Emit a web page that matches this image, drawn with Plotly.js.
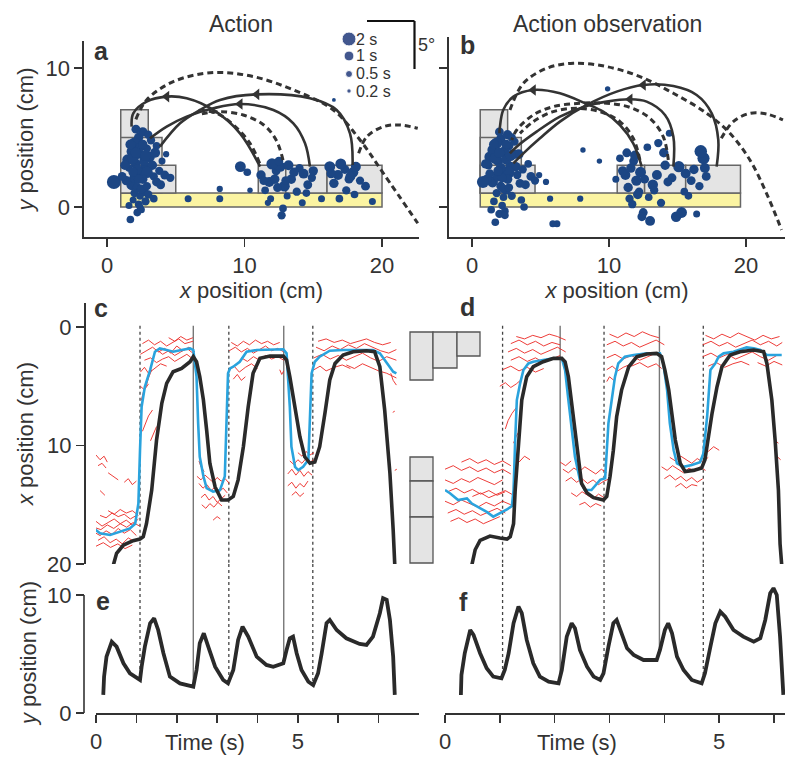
<!DOCTYPE html>
<html><head><meta charset="utf-8">
<script src="https://cdn.plot.ly/plotly-3.0.1.min.js"></script>
<style>html,body{margin:0;padding:0;background:#fff}#chart{width:800px;height:768px}</style>
</head><body><div id="chart"></div>
<script>
// ---------- Panel a / b : blocks [x0,x1,y0,y1] ----------
const blocksA = [[1,3,1,7],[1,4,1,5],[1,5,1,3],[11,13,1,3],[13,16,1,3],[16,20,1,3]];
const baseA = [1,20,0,1];
const blocksB = [[0.6,2.6,1,7],[0.6,3.6,1,5],[0.6,4.6,1,3],[10.6,12.6,1,3],[12.6,15.6,1,3],[15.6,19.6,1,3]];
const baseB = [0.6,19.6,0,1];

// ---------- Panel a trajectories ----------
const aSolidX = [
  [11.13,9.67,7.73,5.79,4.34,2.88,1.91,1.79],
  [14.76,14.4,13.55,12.1,9.67,7.73,5.79,4.34,3.13],
  [17.86,17.67,16.7,14.76,10.89,8.22,6.76,5.31,3.85]];
const aSolidY = [
  [2.9,5.3,6.98,7.82,7.94,7.58,6.74,5.78],
  [2.9,4.58,6.02,6.98,7.41,7.1,6.5,5.78,4.94],
  [3.02,5.3,6.98,7.82,8.1,7.7,6.98,6.02,4.34]];
const aDashX = [
  [2.1,2.88,4.82,7.73,10.64,13.55,16.46,18.4,20.1,22.6],
  [18.3,18.9,20.1,21.3,22.6],
  [12.8,12.3,11.4,9.9,8.2,6.9],
  [11.1,10.4,9.2,8.0,6.9]];
const aDashY = [
  [6.3,7.7,9.02,9.67,9.38,8.42,6.98,4.82,2.42,-1.17],
  [3.86,5.06,5.78,5.9,5.66],
  [3.38,4.82,5.9,6.62,6.86,6.7],
  [3.14,4.58,5.9,6.74,6.95]];

// ---------- Panel b trajectories ----------
const bSolidX = [
  [17.86,17.98,17.5,16.4,14.7,12.5,10.56,8.37,6.42,4.96,3.75,3.02],
  [14.7,14.7,14.09,12.75,11.53,9.83,8.37,6.42,4.72,3.26,2.77],
  [12.39,11.77,10.8,9.58,8.37,6.42,4.47,3.02,2.28,2.04,2.0]];
const bSolidY = [
  [2.9,4.82,6.74,8.06,8.7,8.78,8.3,7.34,6.14,4.94,3.86,3.14],
  [2.9,5.06,6.62,7.58,7.75,7.58,7.27,6.5,5.42,4.34,3.86],
  [2.9,4.58,5.9,6.86,7.41,8.18,8.42,7.94,6.98,5.78,5.3]];
const bDashX = [
  [2.77,3.75,5.45,7.4,9.83,12.26,14.7,17.13,18.83,20.29,21.5,22.6],
  [18.2,19.07,20.29,21.5,22.7],
  [14.33,13.96,12.99,11.53,9.83,7.88,5.93,4.47,3.26,2.9],
  [12.26,11.77,10.8,9.34,7.64,5.93,4.47,3.5]];
const bDashY = [
  [6.98,8.9,9.98,10.34,10.1,9.38,8.18,6.74,5.3,3.38,0.98,-1.65],
  [4.94,6.14,6.74,6.69,6.26],
  [3.38,5.06,6.38,7.17,7.46,7.46,7.22,6.62,5.54,4.82],
  [3.38,4.94,6.14,6.86,7.1,6.86,6.14,5.3]];

// ---------- Fixations (x cm, y cm, duration s) ----------
const fixAx = [2.1,2.5,1.8,2.9,2.3,3.1,1.6,2.7,2.0,3.4,2.4,1.9,2.8,3.6,2.2,1.5,2.6,3.0,2.0,2.4,3.3,1.7,2.9,2.2,3.8,2.5,1.4,2.1,2.7,3.2,2.3,1.8,2.6,4.2,3.5,2.0,1.6,2.8,2.4,3.9,4.6,1.3,2.2,0.5,1.1,3.0,2.6,1.9,2.5,3.4,4.0,1.7,2.3,2.9,2.1,3.6,1.9,2.4,2.8,4.3,
  5.9,8.2,8.2,9.7,10.2,10.4,16.5,
  11.2,11.8,12.3,12.9,13.4,14.0,14.6,11.5,12.6,13.1,13.8,14.3,12.0,11.4,13.6,14.9,12.8,11.9,13.2,12.4,14.5,15.0,16.2,16.8,17.3,17.9,18.4,16.5,17.0,17.6,18.1,16.9,17.4,18.8,15.6,12.2,12.7,19.3,18.0,13.0,11.7,14.2,16.3,17.7,12.5];
const fixAy = [3.1,2.4,1.6,4.2,5.0,3.6,2.8,1.1,4.6,2.2,3.8,0.5,2.9,1.8,-0.4,3.4,5.4,0.9,2.1,4.3,3.0,-0.9,2.5,1.4,2.6,-0.2,1.9,5.6,3.3,4.8,0.2,4.0,2.0,2.3,3.9,1.0,0.1,3.7,0.8,1.6,2.1,3.0,2.7,1.8,2.2,5.2,4.5,3.5,1.3,0.6,3.3,4.5,2.0,1.5,3.9,4.4,2.5,0.0,0.4,3.8,
  0.6,1.3,0.6,2.9,2.5,1.2,7.7,
  2.3,1.8,2.6,1.5,2.0,2.8,1.6,1.2,2.9,0.8,1.1,2.4,3.1,1.9,2.5,2.1,-0.1,0.6,3.0,1.4,1.0,2.6,2.9,2.3,2.7,2.5,1.9,1.7,3.1,2.0,2.9,0.6,1.2,1.5,0.6,2.0,-0.6,0.4,0.9,1.9,0.3,0.3,2.4,2.2,3.3];
const fixAdur = [1.0,0.8,1.2,0.7,0.9,1.1,0.6,0.8,1.3,0.7,0.9,0.5,1.0,0.8,0.6,1.2,0.9,0.7,1.1,0.8,0.9,0.6,1.4,0.8,0.7,0.5,0.9,0.8,1.0,0.7,0.6,1.1,0.9,0.8,1.0,0.7,0.5,1.2,0.6,0.8,0.7,0.9,1.0,2.0,0.8,0.7,0.9,1.3,0.8,0.6,0.5,1.0,0.9,0.7,1.1,0.6,0.9,0.5,0.7,0.4,
  0.5,0.4,0.5,1.2,0.6,0.3,0.15,
  0.9,1.0,0.8,1.2,0.9,0.7,0.8,0.6,1.1,0.5,0.7,1.0,1.3,0.8,0.9,0.7,0.6,0.5,1.0,0.8,0.6,0.9,1.2,1.0,0.8,1.1,0.7,0.9,1.2,0.8,1.0,0.6,0.7,0.8,0.5,0.9,0.7,0.5,0.6,0.8,0.4,0.5,0.9,1.0,0.8];

const fixBx = [1.9,2.3,1.5,2.7,2.1,3.0,1.2,2.5,1.8,3.3,2.2,1.6,2.8,3.5,2.0,1.3,2.6,2.9,1.9,2.4,3.2,1.7,2.7,2.1,3.7,2.4,1.1,2.0,2.5,3.1,2.2,1.5,2.6,4.3,3.4,1.8,1.4,2.8,2.3,3.9,4.6,1.0,2.1,0.8,1.3,2.9,2.5,1.7,2.3,3.6,4.1,1.6,2.2,2.7,2.0,3.8,1.9,2.4,6.2,5.4,
  8.1,9.3,7.9,5.9,9.9,5.7,4.9,
  11.2,11.6,12.0,11.8,12.3,11.4,12.6,11.9,12.2,11.0,12.9,13.5,14.1,14.6,13.2,13.8,14.3,15.1,15.6,16.2,16.6,17.1,16.9,15.8,12.5,11.7,13.0,14.9,15.3,16.4,11.3,12.8,13.6,14.4,10.8,12.1,13.3,16.0,17.0,16.7,14.0,12.4,11.5,15.5,10.5];
const fixBy = [3.3,2.6,1.8,4.4,4.9,3.8,3.0,1.2,4.6,2.3,3.9,0.4,2.9,1.7,-0.5,3.6,5.2,0.8,2.2,4.1,2.9,-1.1,2.5,1.5,2.7,-0.3,2.0,5.4,3.4,4.7,0.1,4.1,2.0,2.2,3.8,1.0,-0.2,3.7,0.7,1.6,1.9,3.1,2.8,1.8,2.4,5.0,4.5,3.5,1.3,0.5,3.1,4.5,2.1,1.4,3.9,0.0,2.6,-0.6,-1.2,1.8,
  4.1,3.3,0.6,-1.2,8.5,0.6,2.3,
  2.3,2.8,1.9,3.3,2.5,1.4,2.0,3.7,1.1,2.6,0.7,2.3,3.0,2.1,1.6,0.3,1.8,2.9,2.4,2.7,1.5,2.2,3.5,0.8,-0.4,0.2,-1.0,-0.7,-0.4,-0.5,3.9,4.3,4.6,5.3,3.5,0.9,1.2,1.9,2.8,4.0,3.9,-0.7,0.6,1.1,2.0];
const fixBdur = [1.0,0.9,1.2,0.8,0.9,1.1,0.7,0.8,1.3,0.7,0.9,0.6,1.0,0.8,0.7,1.2,0.9,0.7,1.1,0.8,0.9,0.6,1.3,0.8,0.7,0.6,0.9,0.8,1.0,0.7,0.6,1.1,0.9,0.8,1.0,0.7,0.6,1.2,0.6,0.8,0.7,0.9,1.0,1.5,0.8,0.7,0.9,1.3,0.8,0.6,0.6,1.0,0.9,0.7,1.1,0.6,0.9,0.6,0.5,0.4,
  0.3,0.3,0.4,0.5,0.3,0.4,0.4,
  1.0,0.9,1.1,0.8,1.2,0.9,0.8,1.0,0.7,0.9,0.6,1.0,0.9,0.8,1.1,0.7,0.8,1.3,1.0,0.9,0.7,0.8,1.5,0.6,0.8,0.7,1.0,1.1,1.2,0.5,0.8,0.6,0.7,0.5,0.6,0.9,0.7,0.8,1.0,1.6,0.9,0.8,0.7,0.6,0.5];

const legendDur = [2, 1, 0.5, 0.2];
const legendLabels = ['2 s', '1 s', '0.5 s', '0.2 s'];

// ---------- Panel c (action) : x position over time ----------
const cBlackT = [0.43,0.51,0.68,0.92,1.09,1.17,1.25,1.38,1.5,1.63,1.75,1.91,2.12,2.33,2.41,2.49,2.57,2.66,2.74,2.82,2.95,3.11,3.27,3.4,3.52,3.65,3.77,3.89,4.06,4.31,4.64,4.72,4.8,4.93,5.05,5.17,5.3,5.42,5.54,5.67,5.79,5.92,6.12,6.37,6.7,6.9,7.03,7.15,7.28,7.36,7.4];
const cBlackX = [20.08,19.1,18.4,18.03,17.9,17.7,16.6,13.76,9.54,6.44,4.75,3.77,3.49,2.93,2.5,2.93,4.19,6.16,8.69,11.5,13.5,14.6,14.6,14.3,12.9,10.1,6.72,3.91,2.64,2.45,2.45,2.78,4.19,6.72,9.26,10.95,11.5,11.4,10.1,7.28,4.47,3.07,2.36,2.08,2.0,2.08,3.35,7.0,12.35,17.1,20.08];
const cBlueT = [-0.02,0.1,0.35,0.59,0.84,0.97,1.05,1.09,1.13,1.21,1.34,1.46,1.58,1.75,1.91,2.12,2.33,2.41,2.49,2.53,2.57,2.66,2.74,2.9,3.07,3.19,3.24,3.27,3.32,3.4,3.56,3.73,3.98,4.31,4.64,4.72,4.8,4.84,4.93,5.01,5.13,5.26,5.3,5.34,5.42,5.54,5.79,6.12,6.53,6.86,7.03,7.2,7.36,7.44];
const cBlueX = [17.1,17.4,17.55,17.3,17.0,16.6,14.9,10.4,6.72,5.04,3.63,2.08,1.8,1.94,2.08,1.94,1.8,1.94,4.19,8.13,10.95,12.6,13.6,13.9,13.76,12.6,8.13,3.91,3.49,3.35,2.93,2.08,1.94,1.88,1.88,2.22,6.72,10.1,11.8,12.07,11.8,11.2,8.13,3.91,2.93,2.5,2.0,1.94,1.94,1.94,2.22,3.07,3.77,3.91];
const cRedT = [
 [-0.05,0.1,0.25,0.4,0.55,0.7,0.85,1.0],[0.0,0.15,0.3,0.45,0.6,0.75,0.9,1.05],[0.05,0.2,0.35,0.5,0.65,0.8,0.95],
 [-0.05,0.12,0.28,0.44,0.6,0.76,0.92,1.08],[0.1,0.25,0.4,0.55,0.7,0.85,1.0],[0.0,0.18,0.36,0.54,0.72,0.9],
 [0.3,0.45,0.6,0.75,0.9,1.05],[0.0,0.1,0.2,0.28],[0.05,0.15,0.25],[0.3,0.42,0.55],[0.1,0.22],[0.7,0.8,0.9,1.0],
 [1.1,1.25,1.4,1.55,1.7,1.85,2.0,2.15,2.3,2.45],[1.15,1.3,1.45,1.6,1.75,1.9,2.05,2.2,2.4],[1.2,1.35,1.5,1.65,1.8,1.95,2.1,2.25,2.4],
 [1.1,1.2,1.3,1.45,1.6,1.75],[1.5,1.65,1.8,1.95,2.1,2.25,2.4],[1.12,1.18,1.25,1.3,1.38],[1.15,1.22,1.3,1.4],[1.35,1.42,1.5],
 [1.1,1.2,1.3],[1.8,1.95,2.1,2.25,2.4],
 [2.55,2.65,2.75,2.85,2.95,3.05,3.15,3.25],[2.6,2.7,2.8,2.9,3.0,3.1,3.2],[2.5,2.6,2.7,2.8,2.9,3.0,3.1,3.2,3.3],
 [2.62,2.72,2.82,2.92,3.02,3.12],[2.55,2.6,2.68],[2.9,3.0,3.08],
 [3.3,3.45,3.6,3.75,3.9,4.05,4.2,4.35,4.5,4.65],[3.35,3.5,3.65,3.8,3.95,4.1,4.25,4.4,4.55],[3.3,3.42,3.55,3.7,3.85,4.0],
 [3.6,3.75,3.9,4.05,4.2,4.35,4.5,4.65],[3.4,3.5,3.6,3.7],[4.55,4.6,4.65],
 [4.75,4.85,4.95,5.05,5.15,5.25,5.35],[4.8,4.9,5.0,5.1,5.2,5.3,5.4],[4.75,4.85,4.95,5.05,5.15,5.25],[4.85,4.95,5.05,5.15],[5.0,5.1,5.2,5.3,5.4],
 [5.4,5.6,5.8,6.0,6.2,6.4,6.6,6.8,7.0,7.2,7.44],[5.45,5.65,5.85,6.05,6.25,6.45,6.65,6.85,7.05,7.25,7.44],[5.4,5.55,5.7,5.9,6.1,6.3],
 [6.2,6.4,6.6,6.8,7.0,7.2,7.44],[5.5,5.7,5.9,6.1,6.3,6.5,6.7,6.9,7.1,7.3],[7.3,7.36,7.44],[7.35,7.4],[7.4,7.45]];
const cRedX = [
 [17.3,17.6,17.2,17.5,17.0,17.4,17.1,17.6],[16.4,16.8,16.5,16.2,16.6,16.3,16.7,16.2],[18.0,17.7,18.2,17.9,18.3,17.8,18.1],
 [16.9,17.1,16.7,17.0,16.6,16.9,16.5,16.8],[15.9,16.1,15.7,16.0,15.8,16.2,15.9],[18.5,18.2,18.6,18.3,18.7,18.4],
 [15.5,15.8,15.4,15.7,15.5,15.9],[10.8,11.2,10.9,11.4],[11.7,11.5,11.9],[12.3,12.6,12.9],[13.8,14.2],[13.1,12.8,13.3,13.0],
 [2.3,2.0,1.7,2.1,1.8,2.2,1.6,2.0,1.7,2.1],[1.4,1.1,1.5,1.2,1.6,1.3,1.0,1.4,1.2],[2.8,2.6,3.0,2.7,2.5,2.9,2.6,2.3,2.7],
 [3.8,3.4,3.9,3.5,3.1,3.3],[1.9,2.3,2.0,2.4,2.1,1.8,2.2],[6.2,5.4,4.9,4.3,3.6],[8.8,8.2,7.5,7.0],[9.6,9.0,8.4],
 [5.0,5.3,4.8],[0.9,1.2,0.8,1.1,0.9],
 [13.2,13.6,13.3,13.8,13.5,13.9,13.6,14.0],[14.4,14.1,14.6,14.3,14.8,14.5,14.2],[12.6,12.9,12.5,12.8,13.1,12.7,13.0,12.8,13.2],
 [15.0,15.3,14.9,15.2,14.8,15.1],[11.3,11.8,12.2],[16.3,16.0,16.2],
 [2.0,1.7,2.1,1.8,2.2,1.9,1.6,2.0,1.8,2.1],[1.3,1.6,1.2,1.5,1.1,1.4,1.2,1.5,1.3],[3.6,3.3,3.8,3.4,3.1,3.5],
 [2.6,2.9,2.5,2.8,2.4,2.7,2.5,2.8],[4.4,4.0,4.5,4.2],[3.6,4.0,3.7],
 [12.4,12.0,12.5,12.1,12.6,12.2,12.5],[11.3,11.6,11.2,11.5,11.1,11.4,11.2],[13.4,13.1,13.6,13.2,13.5,13.0],[14.2,13.9,14.3,14.0],[10.6,10.9,10.5,10.8,10.6],
 [2.6,2.3,2.7,2.4,2.8,2.5,2.2,2.6,2.9,2.5,2.8],[1.7,2.0,1.6,1.9,1.5,1.8,1.4,1.7,2.0,2.2,1.9],[3.6,3.3,3.7,3.4,3.2,3.5],
 [3.2,3.5,3.1,3.4,3.7,3.9,4.3],[1.2,1.0,1.3,1.1,1.4,1.2,1.0,1.3,1.5,1.3],[3.9,4.5,4.9],[7.2,7.1],[12.1,12.0]];

// ---------- Panel d (observation) ----------
const dBlackT = [0.49,0.55,0.64,0.82,1.0,1.13,1.19,1.25,1.28,1.34,1.4,1.49,1.61,1.79,1.98,2.13,2.19,2.25,2.31,2.37,2.43,2.49,2.59,2.71,2.89,2.95,3.01,3.07,3.13,3.22,3.35,3.5,3.68,3.86,3.95,4.01,4.08,4.14,4.2,4.29,4.38,4.53,4.68,4.74,4.8,4.87,4.96,5.05,5.2,5.38,5.63,5.81,5.87,5.96,6.02,6.08,6.11,6.14];
const dBlackX = [20.08,18.8,18.0,17.64,17.8,17.9,17.7,16.6,13.76,9.54,6.16,4.19,3.35,2.93,2.64,2.64,2.93,4.19,6.44,8.97,11.5,13.2,14.0,14.4,14.6,14.3,12.6,10.4,7.57,5.32,3.35,2.5,2.28,2.22,2.5,3.63,5.32,7.57,9.54,11.5,12.2,12.1,11.9,11.2,9.26,7.28,5.04,3.35,2.36,2.08,1.94,2.08,3.07,6.16,9.54,13.76,18.3,20.08];
const dBlueT = [0.0,0.09,0.24,0.4,0.49,0.64,0.76,0.88,1.0,1.13,1.22,1.25,1.28,1.31,1.37,1.43,1.52,1.61,1.79,1.98,2.13,2.19,2.25,2.31,2.37,2.46,2.55,2.67,2.83,2.92,2.95,2.98,3.04,3.1,3.16,3.28,3.44,3.68,3.92,3.98,4.05,4.1,4.17,4.23,4.35,4.5,4.65,4.71,4.78,4.84,4.93,4.99,5.08,5.26,5.5,5.63,5.75,5.87,6.14];
const dBlueX = [13.76,14.03,14.6,14.46,14.9,15.3,15.6,16.0,15.7,15.4,15.1,13.76,9.54,6.16,4.75,3.63,3.07,2.93,2.78,2.64,2.64,3.63,6.16,8.69,10.95,12.9,13.76,13.76,12.9,12.77,10.1,8.13,6.16,4.19,3.07,2.5,2.36,2.22,2.22,3.07,5.32,8.13,10.4,11.5,11.8,11.65,11.4,10.7,7.57,3.63,3.07,2.5,2.22,2.08,1.72,1.8,1.94,2.36,2.36];
const dRedT = [
 [0.0,0.15,0.3,0.45,0.6,0.75,0.9,1.05,1.2],[0.0,0.15,0.3,0.45,0.6,0.75,0.9,1.05],[0.05,0.2,0.35,0.5,0.65,0.8,0.95,1.1],
 [0.0,0.15,0.3,0.45,0.6,0.75,0.9,1.05,1.2],[0.05,0.2,0.35,0.5,0.65,0.8,0.95,1.1],[0.1,0.25,0.4,0.55,0.7,0.85,1.0],
 [0.3,0.45,0.6,0.75,0.9,1.05,1.2],[0.5,0.65,0.8,0.95,1.1,1.25],
 [1.2,1.35,1.5,1.65,1.8,1.95,2.1],[1.15,1.3,1.45,1.6,1.75,1.9,2.05,2.2],[1.2,1.35,1.5,1.65,1.8,1.95,2.1],
 [1.05,1.2,1.35,1.5,1.65,1.8],[1.0,1.1,1.2,1.3,1.4],[1.3,1.45,1.6,1.75,1.9,2.05,2.2],[1.1,1.15,1.22,1.3],[1.25,1.3,1.38],[1.35,1.45,1.55],
 [2.15,2.25,2.35,2.45,2.55,2.65,2.75,2.85,2.95],[2.2,2.3,2.4,2.5,2.6,2.7,2.8,2.9,3.0],[2.3,2.4,2.5,2.6,2.7,2.8,2.9],
 [2.45,2.55,2.65,2.75,2.85],[2.1,2.2,2.3],
 [2.95,3.1,3.25,3.4,3.55,3.7,3.85,4.0],[3.0,3.15,3.3,3.45,3.6,3.75,3.9],[2.95,3.1,3.25,3.4,3.55,3.7,3.85],
 [2.95,3.05,3.15,3.25,3.35],[3.4,3.55,3.7,3.85,3.95],[2.95,3.0,3.08],
 [3.95,4.05,4.15,4.25,4.35,4.45,4.55,4.65,4.75],[4.0,4.1,4.2,4.3,4.4,4.5,4.6,4.7],[4.1,4.2,4.3,4.4,4.5,4.6,4.7,4.8],
 [4.2,4.3,4.4,4.5,4.6],[4.7,4.8,4.9,5.0],
 [4.7,4.85,5.0,5.15,5.3,5.45,5.6,5.75,5.9,6.05,6.15],[4.75,4.9,5.05,5.2,5.35,5.5,5.65,5.8,5.95,6.1],
 [4.7,4.85,5.0,5.15,5.3,5.45,5.6,5.75,5.9,6.05],[4.8,4.95,5.1,5.25,5.4,5.55],[5.7,5.85,6.0,6.15],[6.0,6.08],[6.05,6.12]];
const dRedX = [
 [12.0,11.7,12.1,11.8,12.2,11.9,12.3,12.0,12.4],[12.9,13.2,12.8,13.1,12.7,13.0,13.3,12.9],[13.9,13.6,14.0,13.7,14.1,13.8,14.2,13.9],
 [14.7,15.0,14.6,14.9,15.2,14.8,15.1,14.7,15.0],[15.7,15.4,15.8,15.5,15.9,15.6,15.3,15.7],[16.4,16.1,16.5,16.2,16.6,16.3,16.0],
 [11.4,11.1,11.5,11.2,11.6,11.3,11.7],[14.3,14.0,14.4,14.1,13.8,14.2],
 [1.4,1.1,1.5,1.2,1.6,1.3,1.5],[2.1,1.8,2.2,1.9,2.3,2.0,1.7,2.1],[2.8,2.5,2.9,2.6,3.0,2.7,2.4],
 [3.6,3.3,3.7,3.4,3.8,3.5],[5.0,4.7,5.1,4.8,4.4],[0.8,1.0,0.7,0.9,0.6,0.8,1.1],[8.6,7.9,7.3,6.8],[9.8,9.2,8.6],[11.4,10.9,11.2],
 [12.0,12.3,11.9,12.2,11.8,12.1,12.4,12.0,12.3],[13.0,12.7,13.1,12.8,13.2,12.9,13.3,13.0,12.8],[14.0,14.3,13.9,14.2,14.5,14.1,14.4],
 [15.0,14.8,15.2,14.9,15.1],[11.4,11.7,11.3],
 [1.5,1.2,1.6,1.3,1.7,1.4,1.1,1.5],[0.6,0.9,0.5,0.8,0.4,0.7,0.9],[2.6,2.3,2.7,2.4,2.8,2.5,2.2],
 [3.6,3.3,3.7,3.4,3.2],[3.3,3.0,3.4,3.1,3.5],[4.6,4.2,4.5],
 [11.8,12.1,11.7,12.0,12.3,11.9,12.2,11.8,12.1],[12.8,12.5,12.9,12.6,13.0,12.7,13.1,12.8],[11.0,11.3,10.9,11.2,11.5,11.1,11.4,11.0],
 [13.5,13.2,13.6,13.3,13.4],[10.2,10.5,10.1,10.4],
 [1.5,1.2,1.6,1.3,1.7,1.4,1.1,1.5,1.2,1.6,1.3],[0.7,1.0,0.6,0.9,0.5,0.8,1.1,0.7,1.0,0.8],
 [2.5,2.2,2.6,2.3,2.7,2.4,2.1,2.5,2.8,2.4],[3.3,3.0,3.4,3.1,2.9,3.2],[3.0,3.3,2.9,3.2],[9.5,9.8],[10.9,11.2]];

// ---------- Panels e / f : y position over time ----------
const eT = [0.18,0.2,0.26,0.39,0.51,0.68,0.84,1.09,1.13,1.21,1.34,1.44,1.54,1.67,1.83,2.08,2.41,2.49,2.57,2.67,2.78,2.95,3.15,3.27,3.4,3.52,3.63,3.77,3.98,4.22,4.39,4.64,4.72,4.8,4.88,4.97,5.09,5.26,5.38,5.5,5.59,5.71,5.79,5.96,6.2,6.53,6.7,6.86,7.03,7.11,7.2,7.28,7.36,7.4];
const eY = [1.53,3.08,4.77,6.04,5.62,4.21,3.36,2.8,3.92,5.62,7.6,8.02,7.03,5.06,3.08,2.51,2.23,3.64,5.9,6.75,5.62,3.92,2.8,2.51,3.64,6.19,7.31,6.47,4.77,4.07,3.92,4.21,5.34,6.33,6.47,5.06,3.64,2.65,2.37,3.36,5.06,7.6,7.88,7.03,6.33,5.85,5.76,6.47,8.45,9.72,9.58,7.88,4.77,1.53];
const fT = [0.29,0.3,0.36,0.46,0.52,0.64,0.76,0.88,1.03,1.09,1.16,1.25,1.34,1.4,1.49,1.61,1.73,1.89,2.07,2.13,2.22,2.31,2.37,2.46,2.59,2.71,2.83,2.89,2.98,3.07,3.13,3.22,3.32,3.44,3.62,3.86,3.92,4.01,4.07,4.14,4.23,4.35,4.5,4.68,4.74,4.84,4.93,5.02,5.11,5.26,5.44,5.63,5.75,5.84,5.93,5.99,6.05,6.11,6.17];
const fY = [1.53,3.22,5.06,7.03,6.61,5.06,3.79,3.08,2.94,3.64,5.06,7.6,9.01,8.45,6.19,4.21,3.08,2.65,2.51,3.64,6.47,7.6,7.18,5.34,3.92,3.08,2.8,3.36,5.62,7.6,7.88,6.75,5.48,4.92,4.49,4.49,5.34,7.03,7.6,6.75,4.77,3.64,2.8,2.51,3.36,5.62,7.6,8.58,8.16,7.03,6.47,6.04,6.33,7.88,10.14,10.57,10.0,6.47,1.53];

// ---------- Events (s) ----------
const eventsAction = [1.09, 2.41, 3.29, 4.65, 5.37];
const eventsObs = [1.05, 2.1, 2.9, 3.91, 4.71];
const eventKinds = ['dash', 'solid', 'dash', 'solid', 'dash'];

// ================= drawing =================
const FONT = 'Liberation Sans, Arial, Helvetica, sans-serif';
const INK = '#333';
const W = 800, H = 768;
const px = p => p / W;
const py = p => 1 - p / H;
const E_TOP = 12.62;
const DOT = '#1c4684';
const SIZEREF = 1 / 49;

function flat(segs) { const o = []; segs.forEach((s, i) => { if (i) o.push(null); o.push(...s); }); return o; }
function interp(ts, vs, t) {
  for (let i = 1; i < ts.length; i++) if (t <= ts[i]) { const f = (t - ts[i-1]) / (ts[i] - ts[i-1]); return vs[i-1] + f * (vs[i] - vs[i-1]); }
  return vs[vs.length - 1];
}

const traces = [];

function trajTraces(sx, sy, dx, dy, xa, ya) {
  dx.forEach((xs, i) => traces.push({x: xs, y: dy[i], xaxis: xa, yaxis: ya, mode: 'lines', hoverinfo: 'skip',
    line: {color: INK, width: 3, dash: '6px,4px', shape: 'spline'}}));
  sx.forEach((xs, i) => traces.push({x: xs, y: sy[i], xaxis: xa, yaxis: ya, mode: 'lines', hoverinfo: 'skip',
    line: {color: INK, width: 2.6, shape: 'spline'}}));
  const axx = [], ayy = [];
  sx.forEach((xs, i) => { const ys = sy[i]; let k = 0; ys.forEach((v, j) => { if (v > ys[k]) k = j; }); axx.push(xs[k]); ayy.push(ys[k]); });
  traces.push({x: axx, y: ayy, xaxis: xa, yaxis: ya, mode: 'markers', hoverinfo: 'skip',
    marker: {symbol: 'triangle-left', size: 10, color: INK, opacity: 1}});
}
function fixTrace(x, y, d, xa, ya) {
  traces.push({x: x, y: y, xaxis: xa, yaxis: ya, mode: 'markers', hoverinfo: 'skip',
    marker: {color: DOT, opacity: 1, size: d, sizemode: 'area', sizeref: SIZEREF, line: {width: 0}}});
}

// panel a
fixTrace(fixAx, fixAy, fixAdur, 'x', 'y');
trajTraces(aSolidX, aSolidY, aDashX, aDashY, 'x', 'y');
// panel b
fixTrace(fixBx, fixBy, fixBdur, 'x2', 'y2');
trajTraces(bSolidX, bSolidY, bDashX, bDashY, 'x2', 'y2');

function eventLines(evts, xa, yTop, yBot, curveT, curveY) {
  evts.forEach((t, i) => {
    const ln = eventKinds[i] === 'dash' ? {color: '#444', width: 1.3, dash: '3px,3px'} : {color: '#777', width: 1.4};
    traces.push({x: [t, t], y: [-0.1, 20], xaxis: xa, yaxis: yTop, mode: 'lines', hoverinfo: 'skip', line: ln});
    traces.push({x: [t, t], y: [E_TOP, interp(curveT, curveY, t)], xaxis: xa, yaxis: yBot, mode: 'lines', hoverinfo: 'skip', line: ln});
  });
}
eventLines(eventsAction, 'x3', 'y3', 'y5', eT, eY);
eventLines(eventsObs, 'x4', 'y4', 'y6', fT, fY);

function posTraces(redT, redX, blueT, blueX, blackT, blackX, xa, ya) {
  traces.push({x: flat(redT), y: flat(redX), xaxis: xa, yaxis: ya, mode: 'lines', hoverinfo: 'skip', connectgaps: false,
    line: {color: 'rgba(235,40,35,0.9)', width: 1.0}});
  traces.push({x: blueT, y: blueX, xaxis: xa, yaxis: ya, mode: 'lines', hoverinfo: 'skip', line: {color: '#2aa3dd', width: 2.6}});
  traces.push({x: blackT, y: blackX, xaxis: xa, yaxis: ya, mode: 'lines', hoverinfo: 'skip', line: {color: '#2a2a2a', width: 3.6}});
}
posTraces(cRedT, cRedX, cBlueT, cBlueX, cBlackT, cBlackX, 'x3', 'y3');
posTraces(dRedT, dRedX, dBlueT, dBlueX, dBlackT, dBlackX, 'x4', 'y4');

traces.push({x: eT, y: eY, xaxis: 'x3', yaxis: 'y5', mode: 'lines', hoverinfo: 'skip', line: {color: '#2a2a2a', width: 3.8}});
traces.push({x: fT, y: fY, xaxis: 'x4', yaxis: 'y6', mode: 'lines', hoverinfo: 'skip', line: {color: '#2a2a2a', width: 3.8}});

// legend of fixation durations (overlay axis in pixel units)
const legY = [39, 56, 74, 91];
traces.push({x: legendDur.map(() => 349), y: legY, xaxis: 'x7', yaxis: 'y7', mode: 'markers', hoverinfo: 'skip',
  cliponaxis: false, marker: {color: '#42578e', opacity: 1, size: legendDur, sizemode: 'area', sizeref: SIZEREF}});

const tf = {family: FONT, size: 22, color: INK};
const axBase = {showgrid: false, zeroline: false, showline: true, linecolor: INK, linewidth: 1.6,
  ticks: 'outside', ticklen: 8, tickwidth: 1.6, tickcolor: INK, tickfont: tf};

const shapes = [];
function blockShapes(blocks, base, xr, yr) {
  shapes.push({type: 'rect', xref: xr, yref: yr, x0: base[0], x1: base[1], y0: base[2], y1: base[3],
    fillcolor: '#fbf4a2', line: {color: '#666', width: 1.5}, layer: 'below'});
  blocks.forEach(b => shapes.push({type: 'rect', xref: xr, yref: yr, x0: b[0], x1: b[1], y0: b[2], y1: b[3],
    fillcolor: '#e4e4e4', line: {color: '#666', width: 1.5}, layer: 'below'}));
}
blockShapes(blocksA, baseA, 'x', 'y');
blockShapes(blocksB, baseB, 'x2', 'y2');
// e y-axis line (0..10 only)
shapes.push({type: 'line', xref: 'paper', yref: 'y5', x0: px(84), x1: px(84), y0: 0, y1: 10, line: {color: INK, width: 1.6}});
// scale bar 5 deg
shapes.push({type: 'line', xref: 'paper', yref: 'paper', x0: px(367), x1: px(414.5), y0: py(21), y1: py(21), line: {color: '#111', width: 2.2}});
shapes.push({type: 'line', xref: 'paper', yref: 'paper', x0: px(414.5), x1: px(414.5), y0: py(21), y1: py(69), line: {color: '#111', width: 2.2}});
// inset block sketches
[[410,332,433,380],[433,332,457,368],[457,332,480,356],[410,457,433,481],[410,481,433,517],[410,517,433,563]].forEach(r =>
  shapes.push({type: 'rect', xref: 'paper', yref: 'paper', x0: px(r[0]), x1: px(r[2]), y0: py(r[1]), y1: py(r[3]),
    fillcolor: '#e4e4e4', line: {color: '#555', width: 1.3}}));

const ann = [];
function txt(t, x, y, size, extra) { ann.push(Object.assign({text: t, x: px(x), y: py(y), xref: 'paper', yref: 'paper', showarrow: false,
  xanchor: 'center', yanchor: 'middle', font: {family: FONT, size: size, color: INK}}, extra || {})); }
txt('Action', 241, 24, 23);
txt('Action observation', 607, 24, 23);
txt('<b>a</b>', 101, 51, 25); txt('<b>b</b>', 467, 45, 25);
txt('<b>c</b>', 101, 308, 25); txt('<b>d</b>', 467, 307, 25);
txt('<b>e</b>', 103, 601, 25); txt('<b>f</b>', 464, 602, 25);
txt('5°', 427, 45, 18);
legendLabels.forEach((l, i) => txt(l, 355, legY[i], 16, {xanchor: 'left', borderpad: 0}));
txt('Time (s)', 205, 742, 22); txt('Time (s)', 577, 742, 22);
txt('<i>y</i> position (cm)', 28, 654, 22, {textangle: -90});

const layout = {
  width: W, height: H, margin: {l: 0, r: 0, t: 0, b: 0}, showlegend: false,
  paper_bgcolor: '#fff', plot_bgcolor: 'rgba(0,0,0,0)', font: {family: FONT, color: INK},
  xaxis: Object.assign({}, axBase, {domain: [px(84), px(419)], range: [-1.673, 22.69], tickvals: [0, 10, 20], anchor: 'y',
    title: {text: '<i>x</i> position (cm)', font: {family: FONT, size: 22, color: INK}, standoff: 4}}),
  yaxis: Object.assign({}, axBase, {domain: [py(237), py(41)], range: [-2.158, 11.94], tickvals: [0, 10], anchor: 'x',
    title: {text: '<i>y</i> position (cm)', font: {family: FONT, size: 22, color: INK}, standoff: 6}}),
  xaxis2: Object.assign({}, axBase, {domain: [px(449), px(785)], range: [-1.68, 22.85], tickvals: [0, 10, 20], anchor: 'y2',
    title: {text: '<i>x</i> position (cm)', font: {family: FONT, size: 22, color: INK}, standoff: 4}}),
  yaxis2: Object.assign({}, axBase, {domain: [py(237), py(37)], range: [-2.16, 12.23], tickvals: [0, 10], showticklabels: false, anchor: 'x2'}),
  xaxis3: Object.assign({}, axBase, {domain: [px(96), px(419)], range: [0, 8.0], tickvals: [0,1,2,3,4,5,6,7],
    ticktext: ['0','','','','','5','',''], anchor: 'y5'}),
  yaxis3: Object.assign({}, axBase, {domain: [py(564), py(303)], range: [20, -2.03], tickvals: [0, 10, 20], anchor: 'free', position: px(84),
    title: {text: '<i>x</i> position (cm)', font: {family: FONT, size: 22, color: INK}, standoff: 6}}),
  yaxis5: Object.assign({}, axBase, {domain: [py(713), py(564)], range: [0, E_TOP], tickvals: [0, 10], showline: false, anchor: 'free', position: px(84)}),
  xaxis4: Object.assign({}, axBase, {domain: [px(445), px(785)], range: [0, 6.2], tickvals: [0,1,2,3,4,5,6],
    ticktext: ['0','','','','','5',''], anchor: 'y6'}),
  yaxis4: {domain: [py(564), py(303)], range: [20, -2.03], visible: false, anchor: 'x4'},
  yaxis6: {domain: [py(713), py(564)], range: [0, E_TOP], visible: false, anchor: 'x4'},
  xaxis7: {domain: [0, 1], range: [0, W], visible: false, anchor: 'y7'},
  yaxis7: {domain: [0, 1], range: [H, 0], visible: false, anchor: 'x7'},
  shapes: shapes, annotations: ann
};
Plotly.newPlot('chart', traces, layout, {staticPlot: true, displayModeBar: false});
</script></body></html>
